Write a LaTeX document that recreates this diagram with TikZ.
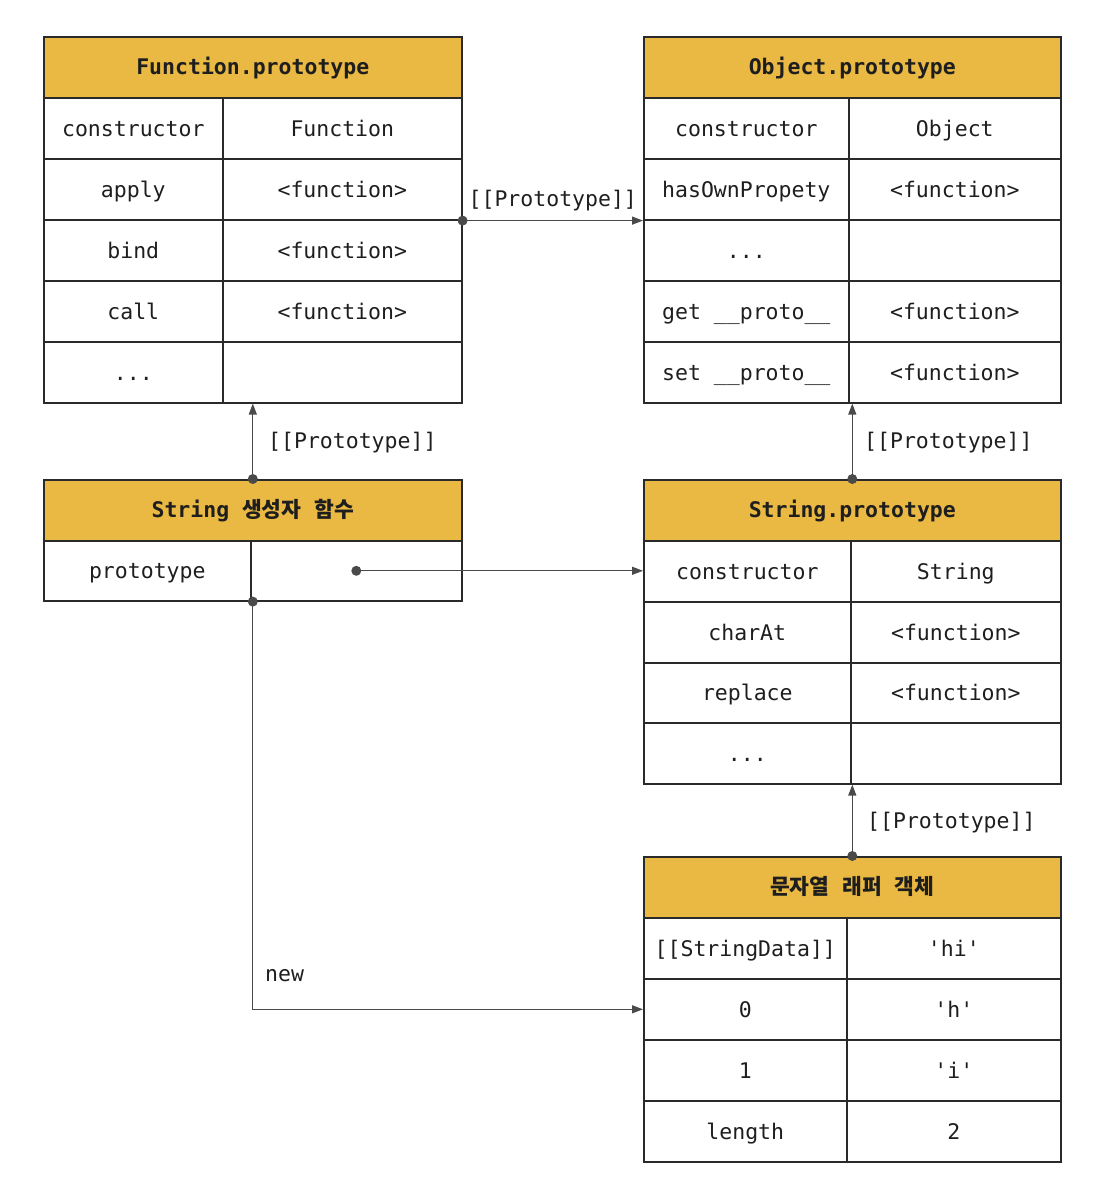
\documentclass[tikz,border=0pt]{standalone}
\usepackage{fontspec}
\setmonofont{DejaVu Sans Mono}
\newfontfamily\kr{Noto Sans CJK KR}
\usetikzlibrary{arrows.meta,calc}
\definecolor{linec}{HTML}{2A2A2A}
\definecolor{conc}{HTML}{4A4A4A}
\definecolor{hdc}{HTML}{EAB943}
\definecolor{txt}{HTML}{1E1E1E}
\newcommand\trow[8]{%
  \node[tbl, minimum width={#3-#2}, minimum height=#6] (#1l) at (#2,#5) {#7};
  \node[tbl, minimum width={#4-#3}, minimum height=#6] (#1r) at (#3,#5) {#8};}
\begin{document}
\begin{tikzpicture}[x=1pt,y=-1pt,
  tbl/.style={draw=linec, line width=1.6pt, inner sep=0pt, anchor=north west,
    text height=17pt, text depth=1pt,
    font=\ttfamily\fontsize{21.5}{25}\selectfont, text=txt},
  hd/.style={tbl, fill=hdc, text height=16pt, text depth=2pt,
    font=\ttfamily\bfseries\fontsize{21.5}{25}\selectfont},
  conn/.style={draw=conc, line width=1.3pt, -{Triangle[length=11pt,width=8pt]}},
  dotc/.style={circle, fill=conc, inner sep=0pt, minimum size=10pt},
  lbl/.style={font=\ttfamily\fontsize{21.5}{25}\selectfont, text=txt, inner sep=0pt}]
\useasboundingbox (0,0) rectangle (1106,1180);
% Function.prototype
\node[hd, minimum width=418, minimum height=61] (fph) at (43,36) {Function.prototype};
\trow{fpa}{43}{222}{461}{97}{61}{constructor}{Function}
\trow{fpb}{43}{222}{461}{158}{61}{apply}{<function>}
\trow{fpc}{43}{222}{461}{219}{61}{bind}{<function>}
\trow{fpd}{43}{222}{461}{280}{61}{call}{<function>}
\trow{fpe}{43}{222}{461}{341}{61}{...}{}
% Object.prototype
\node[hd, minimum width=417, minimum height=61] (oph) at (643,36) {Object.prototype};
\trow{opa}{643}{848}{1060}{97}{61}{constructor}{Object}
\trow{opb}{643}{848}{1060}{158}{61}{hasOwnPropety}{<function>}
\trow{opc}{643}{848}{1060}{219}{61}{...}{}
\trow{opd}{643}{848}{1060}{280}{61}{get \_\_proto\_\_}{<function>}
\trow{ope}{643}{848}{1060}{341}{61}{set \_\_proto\_\_}{<function>}
% String constructor
\node[hd, minimum width=418, minimum height=61] (sch) at (43,479) {String\ {\kr\bfseries 생성자}\ {\kr\bfseries 함수}};
\trow{sca}{43}{250}{461}{540}{60}{prototype}{}
% String.prototype
\node[hd, minimum width=417, minimum height=61] (sph) at (643,479) {String.prototype};
\trow{spa}{643}{850}{1060}{540}{61}{constructor}{String}
\trow{spb}{643}{850}{1060}{601}{61}{charAt}{<function>}
\trow{spc}{643}{850}{1060}{662}{60}{replace}{<function>}
\trow{spd}{643}{850}{1060}{722}{61}{...}{}
% String wrapper object
\node[hd, minimum width=417, minimum height=61] (swh) at (643,856) {{\kr\bfseries 문자열}\ {\kr\bfseries 래퍼}\ {\kr\bfseries 객체}};
\trow{swa}{643}{846}{1060}{917}{61}{[[StringData]]}{'hi'}
\trow{swb}{643}{846}{1060}{978}{61}{0}{'h'}
\trow{swc}{643}{846}{1060}{1039}{61}{1}{'i'}
\trow{swd}{643}{846}{1060}{1100}{61}{length}{2}
% connectors
% Function.prototype -> Object.prototype
\node[dotc] (d1) at (fpbr.south east) {};
\draw[conn] (d1.center) -- (d1.center -| opbl.west);
\node[lbl, anchor=south] (l1) at ($(d1.center)!0.5!(opbl.south west)+(0,-9)$) {[[Prototype]]};
% String ctor -> Function.prototype
\node[dotc] (d2) at (sch.north) {};
\draw[conn] (d2.center) -- (d2.center |- fper.south);
\node[lbl, anchor=west] (l2) at (268,443) {[[Prototype]]};
% String.prototype -> Object.prototype
\node[dotc] (d3) at (sph.north) {};
\draw[conn] (d3.center) -- (d3.center |- oper.south);
\node[lbl, anchor=west] (l3) at (864,443) {[[Prototype]]};
% wrapper -> String.prototype
\node[dotc] (d4) at (swh.north) {};
\draw[conn] (d4.center) -- (d4.center |- spdr.south);
\node[lbl, anchor=west] (l4) at (867,823) {[[Prototype]]};
% prototype -> String.prototype
\node[dotc] (d5) at (scar.center) {};
\draw[conn] (d5.center) -- (d5.center -| spal.west);
% new
\node[dotc] (d6) at (sch.north |- scal.south) {};
\draw[conn] (d6.center) |- (swbl.west);
\node[lbl, anchor=west] (l6) at (265,976) {new};
\end{tikzpicture}
\end{document}
